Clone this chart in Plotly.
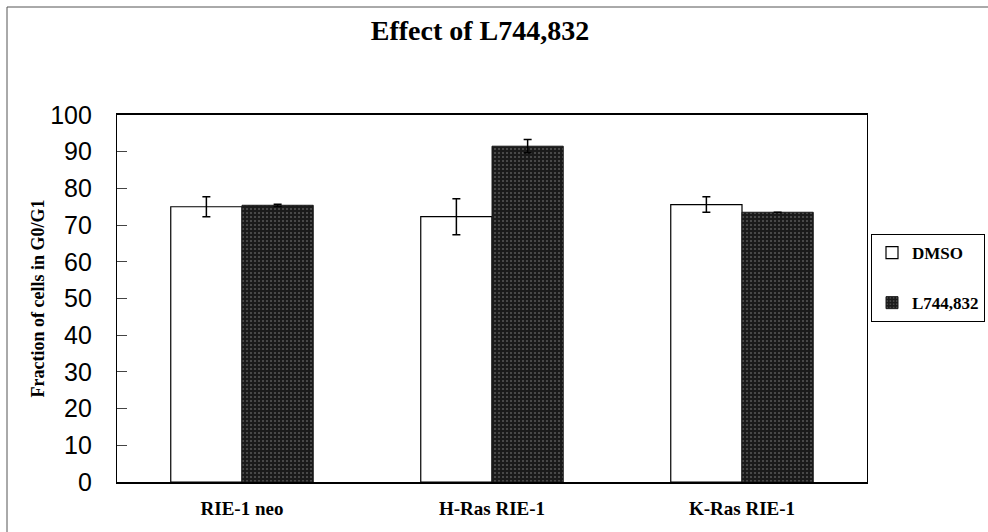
import plotly.graph_objects as go

categories = ["RIE-1 neo", "H-Ras RIE-1", "K-Ras RIE-1"]
dmso_values = [75.0, 72.3, 75.6]
dmso_errors = [2.7, 4.9, 2.1]
l744_values = [75.4, 91.5, 73.5]
l744_errors = [0.3, 1.8, 0.0]
y_ticks = [0, 10, 20, 30, 40, 50, 60, 70, 80, 90, 100]

W, H = 988, 532
L, R, T, B = 117, 121, 115, 50
pw, ph = W - L - R, H - T - B

serif = "Liberation Serif"
sans = "Liberation Sans"

fig = go.Figure()
fig.add_trace(go.Bar(
    name="<b>DMSO</b>", x=categories, y=dmso_values,
    error_y=dict(type="data", array=dmso_errors, color="black", thickness=1.5, width=4),
    marker=dict(color="white", line=dict(color="black", width=1.2)),
    legendgroup="a",
))
fig.add_trace(go.Bar(
    name="<b>L744,832</b>", x=categories, y=l744_values,
    error_y=dict(type="data", array=l744_errors, color="black", thickness=1.5, width=4),
    marker=dict(color="#1a1a1a", line=dict(color="#1a1a1a", width=1),
                pattern=dict(shape=".", fgcolor="#8c8c8c", size=4, solidity=0.22)),
    legendgroup="b",
))

def px_x(x):
    return (x - L) / pw

def px_y(y):
    return (H - B - y) / ph

fig.update_layout(
    width=W, height=H,
    margin=dict(l=L, r=R, t=T, b=B, pad=0, autoexpand=False),
    paper_bgcolor="white", plot_bgcolor="white",
    barmode="group", bargap=0.43, bargroupgap=0.0,
    title=dict(text="<b>Effect of L744,832</b>", font=dict(family=serif, size=28, color="black"),
               x=px_x(480), xref="paper", xanchor="center",
               y=1 - 30 / H, yref="container", yanchor="middle"),
    xaxis=dict(showline=True, linecolor="black", linewidth=1.5, mirror=True,
               ticks="", showgrid=False,
               tickfont=dict(family=serif, size=19, color="black"),
               tickprefix="<b>", ticksuffix="</b>", ticklabelstandoff=8),
    yaxis=dict(range=[0, 100], tickvals=y_ticks, showline=True, linecolor="black", linewidth=1.2,
               mirror=True, ticks="inside", ticklen=10, tickcolor="#444", tickwidth=1,
               showgrid=False, zeroline=False,
               tickfont=dict(family=sans, size=25, color="black"), ticklabelstandoff=19,
               title=dict(text="<b>Fraction of cells in G0/G1</b>", font=dict(family=serif, size=18, color="black"),
                          standoff=0)),
    legend=dict(x=px_x(985), y=px_y(234), xanchor="right", yanchor="top",
                bordercolor="black", borderwidth=1, bgcolor="white",
                font=dict(family=serif, size=17, color="black"),
                traceorder="grouped", tracegroupgap=25,
                itemwidth=30),
    showlegend=True,
)

# outer frame (left and top edges visible), one open path
x_left = px_x(7)
y_top = px_y(7)
fig.add_shape(type="path", xref="paper", yref="paper",
              path=f"M {x_left} {px_y(H)} L {x_left} {y_top} L {px_x(W)} {y_top}",
              line=dict(color="#555", width=1))

fig.write_html("out.html", config={"displayModeBar": False})
